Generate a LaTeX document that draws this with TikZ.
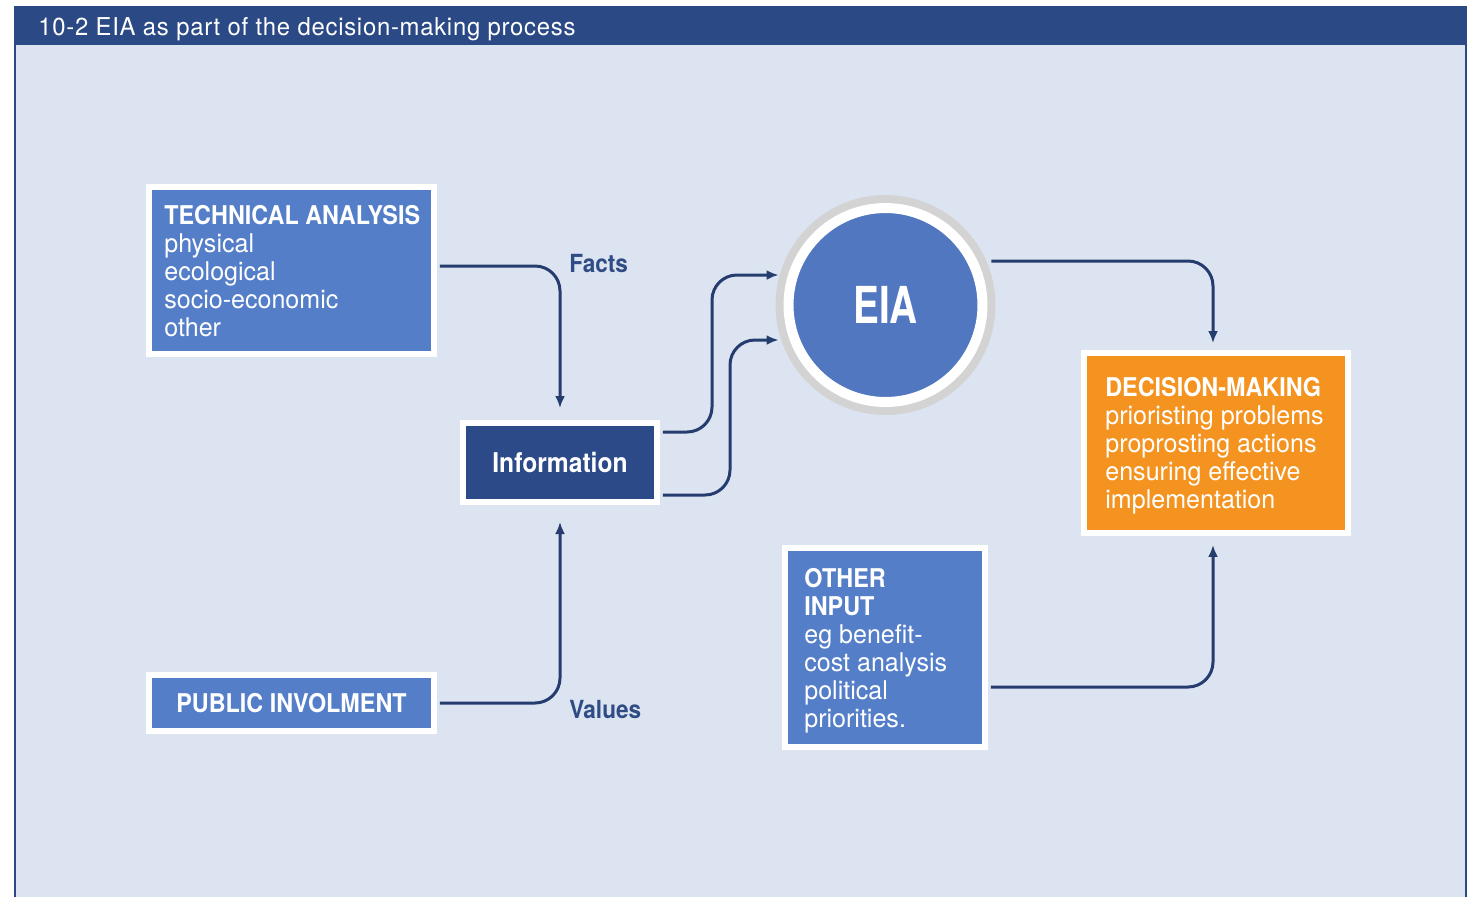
\documentclass[tikz,border=0pt]{standalone}
\usepackage{fontspec}
\setmainfont{TeX Gyre Heros}[FakeStretch=0.97]
\newfontfamily\headfont{TeX Gyre Heros}[FakeStretch=0.905]
\newfontfamily\eiafont{TeX Gyre Heros}[FakeStretch=0.76]
\newfontfamily\titlefont{TeX Gyre Heros}[FakeStretch=0.97, LetterSpace=3]
\usetikzlibrary{arrows.meta}

\definecolor{panelbg}{HTML}{DCE3F1}
\definecolor{headerblue}{HTML}{2B4A85}
\definecolor{boxblue}{HTML}{547EC8}
\definecolor{eiablue}{HTML}{5177C0}
\definecolor{infoblue}{HTML}{2B4A87}
\definecolor{decorange}{HTML}{F4931F}
\definecolor{ringgray}{HTML}{D3D3D3}
\definecolor{flowblue}{HTML}{253D6E}
\definecolor{labelblue}{HTML}{2F4C85}

\begin{document}
\begin{tikzpicture}[x=0.02cm, y=-0.02cm]
  \tikzstyle{box}=[rectangle, draw=white, line width=0.12cm, fill=boxblue, inner sep=0pt]
  \tikzstyle{boxtext}=[anchor=north west, align=left, inner sep=0pt, text=white, font=\fontsize{14.7}{15.9}\selectfont]
  \tikzstyle{boxhead}=[text=white, font=\headfont\bfseries\fontsize{14.7}{15.9}\selectfont]
  \tikzstyle{lbl}=[anchor=base west, inner sep=0pt, text=labelblue, font=\headfont\bfseries\fontsize{14.2}{15}\selectfont]
  \tikzstyle{flow}=[draw=flowblue, line width=0.06cm, rounded corners=0.5cm, -{Latex[length=0.24cm, width=0.2cm]}]

  % Rahmen und Kopfzeile
  \useasboundingbox (0,0) rectangle (1473,897);
  \fill[white] (0,0) rectangle (1473,897);
  \fill[panelbg] (14,6) rectangle (1467,897);
  \fill[headerblue] (14,6) rectangle (1467,45);
  \draw[headerblue, line width=0.04cm] (15,45) -- (15,897);
  \draw[headerblue, line width=0.04cm] (1466,45) -- (1466,897);
  \node[anchor=base west, inner sep=0pt, text=white, font=\titlefont\fontsize{14}{15}\selectfont] (title) at (38,35)
    {10-2 EIA as part of the decision-making process};

  \node[box, minimum width=5.7cm, minimum height=3.34cm]  (tech)     at (291.5, 270.5) {};
  \node[box, boxhead, minimum width=5.7cm, minimum height=1.12cm] (public) at (291.5, 703) {PUBLIC INVOLMENT};
  \node[box, boxhead, fill=infoblue, minimum width=3.88cm, minimum height=1.58cm,
        font=\headfont\bfseries\fontsize{15.5}{16}\selectfont] (info) at (560, 462.5) {Information};
  \node[circle, fill=eiablue, draw=white, line width=0.2cm, minimum size=3.88cm, inner sep=0pt,
        preaction={draw=ringgray, line width=0.52cm},
        text=white, font=\eiafont\bfseries\fontsize{29}{30}\selectfont] (eia) at (885.5, 305) {EIA};
  \node[box, fill=decorange, minimum width=5.28cm, minimum height=3.6cm] (decision) at (1216, 443) {};
  \node[box, minimum width=4cm, minimum height=3.98cm]    (other)    at (885, 647.5) {};

  \node[boxtext] (techtext) at (164, 205)
    {{\headfont\bfseries TECHNICAL ANALYSIS}\\physical\\ecological\\socio-economic\\other};
  \node[boxtext] (decisiontext) at (1105, 377)
    {{\headfont\bfseries DECISION-MAKING}\\prioristing problems\\proprosting actions\\ensuring effective\\implementation};
  \node[boxtext] (othertext) at (804, 568)
    {{\headfont\bfseries OTHER}\\{\headfont\bfseries INPUT}\\eg benefit-\\cost analysis\\political\\priorities.};

  \node[lbl] (facts)  at (569, 272) {Facts};
  \node[lbl] (values) at (569, 718) {Values};

  \draw[flow, shorten <=0.06cm, shorten >=0.24cm] (tech.east |- 0,266) -| (info.north);
  \draw[flow, shorten <=0.06cm, shorten >=0.34cm] (public.east) -| (info.south);
  \draw[flow, shorten <=0.06cm, shorten >=0.1cm] (info.east |- 0,432) -- (712,432) -- (712,275) -- (eia.west |- 0,275);
  \draw[flow, shorten <=0.06cm, shorten >=0.1cm] (info.east |- 0,495) -- (730,495) -- (730,340) -- (eia.west |- 0,340);
  \draw[flow, shorten <=0.08cm, shorten >=0.14cm] (eia.east |- 0,261) -| ([xshift=-0.06cm]decision.north);
  \draw[flow, shorten <=0.06cm, shorten >=0.18cm] (other.east |- 0,687) -| ([xshift=-0.06cm]decision.south);
\end{tikzpicture}
\end{document}
